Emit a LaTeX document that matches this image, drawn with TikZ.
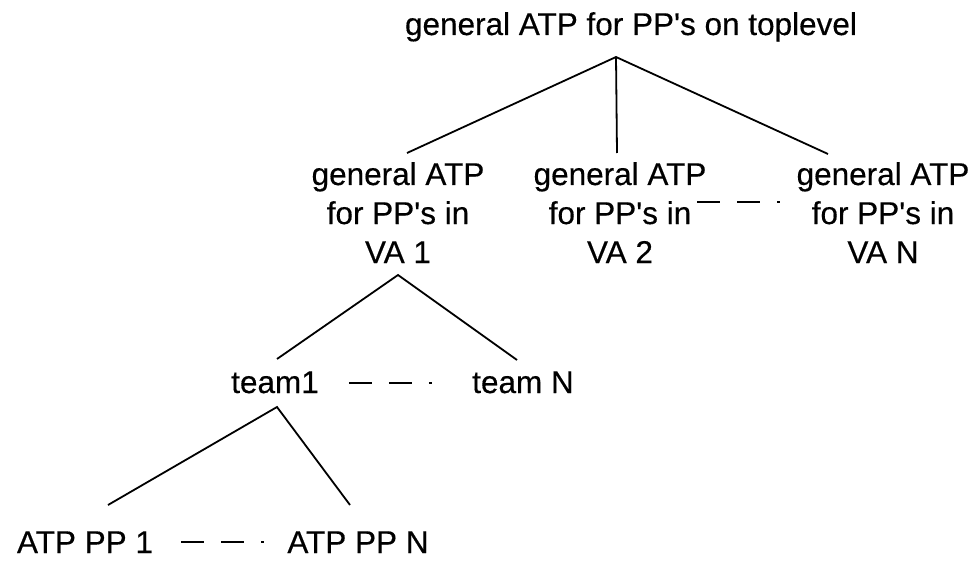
\documentclass[tikz,border=0pt]{standalone}
\usepackage{fontspec}
\setmainfont{Liberation Sans}
\newfontfamily\lblfont[FakeBold=0.4]{Liberation Sans}
\begin{document}
\begin{tikzpicture}[x=1pt,y=-1pt,
  lbl/.style={inner sep=0pt, anchor=base, align=center,
    font=\lblfont\fontsize{31.5}{39}\selectfont},
  edge/.style={line width=1.8pt},
  gapline/.style={line width=1.8pt,
    dash pattern=on 23pt off 17pt on 23pt off 17pt on 3pt off 200pt}]
\useasboundingbox (0,0) rectangle (979,569);

% labels (multi-line labels sit on the baseline of their last line)
\node[lbl] (top)   at (631,35)  {general ATP for PP's on toplevel};
\node[lbl] (va1)   at (398,263) {general ATP\\for PP's in\\VA 1};
\node[lbl] (va2)   at (620,263) {general ATP\\for PP's in\\VA 2};
\node[lbl] (van)   at (883,263) {general ATP\\for PP's in\\VA N};
\node[lbl] (team1) at (275,393) {team1};
\node[lbl] (teamn) at (523,393) {team N};
\node[lbl] (pp1)   at (85,553)  {ATP PP 1};
\node[lbl] (ppn)   at (358,553) {ATP PP N};

% branching points and line ends
\coordinate (topfork)  at (616,57);
\coordinate (va1in)    at (407,153);
\coordinate (va2in)    at (617,153);
\coordinate (vanin)    at (828,154);
\coordinate (va1fork)  at (398,275);
\coordinate (team1in)  at (277,359);
\coordinate (teamnin)  at (517,360);
\coordinate (team1fork) at (277,407);
\coordinate (pp1in)    at (108,505);
\coordinate (ppnin)    at (350,505);

% tree edges
\draw[edge] (va1in) -- (topfork) -- (vanin);
\draw[edge] (topfork) -- (va2in);
\draw[edge] (team1in) -- (va1fork) -- (teamnin);
\draw[edge] (pp1in) -- (team1fork) -- (ppnin);

% "and so on" dashes between siblings
\draw[gapline] ([xshift=77pt,yshift=61pt]va2.base) -- ++(84,0);
\draw[gapline] ([xshift=30pt,yshift=10pt]team1.base east) -- ++(84,0);
\draw[gapline] ([xshift=28pt,yshift=11pt]pp1.base east) -- ++(84,0);
\end{tikzpicture}
\end{document}
